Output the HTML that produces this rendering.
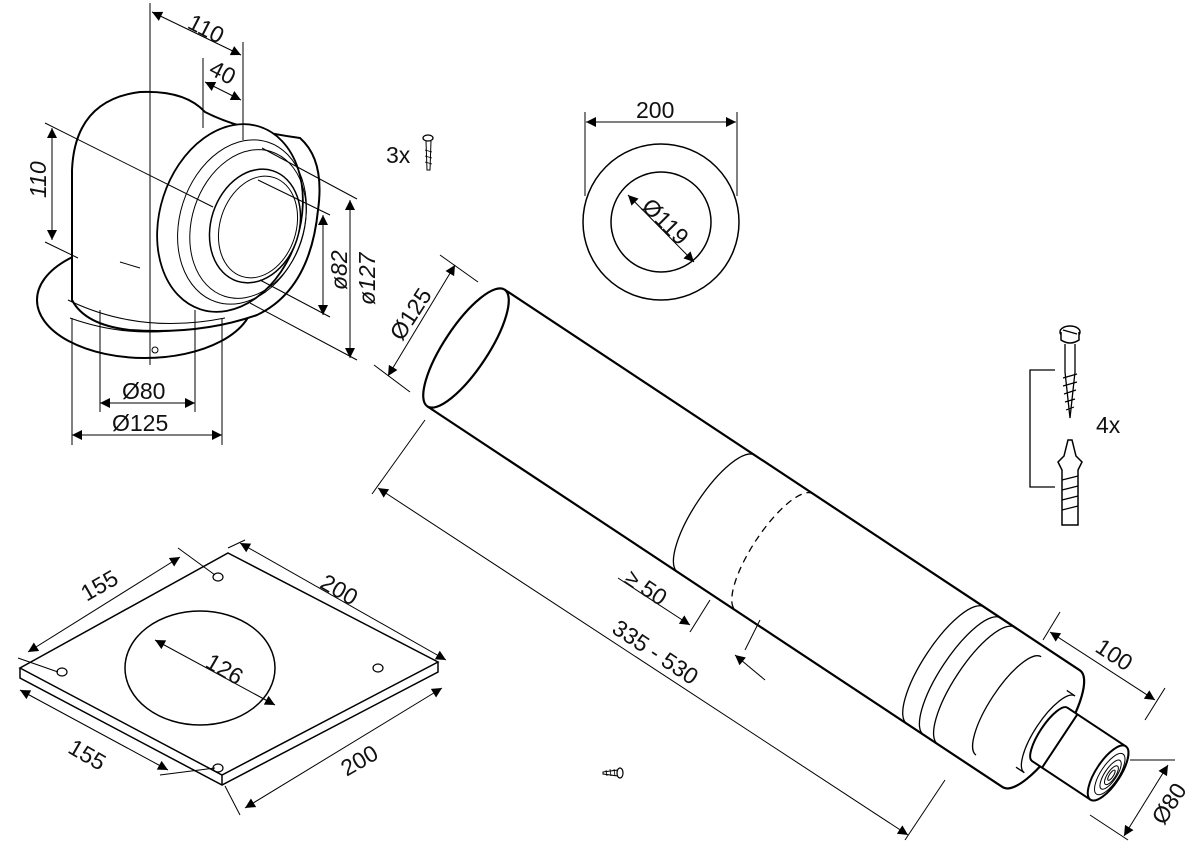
<!DOCTYPE html>
<html><head><meta charset="utf-8">
<style>
html,body{margin:0;padding:0;background:#fff;}
svg{display:block;}
text{font-family:"Liberation Sans",sans-serif;font-size:23px;fill:#111;}
</style></head><body>
<svg width="1200" height="856" viewBox="0 0 1200 856" xmlns="http://www.w3.org/2000/svg">
<defs>
<marker id="a" viewBox="0 0 10 10" refX="10" refY="5" markerWidth="14" markerHeight="10" markerUnits="userSpaceOnUse" orient="auto-start-reverse">
<path d="M0,0 L10,5 L0,10 z" fill="#000"/></marker>
</defs>
<g fill="none" stroke="#000" stroke-width="1.3">

<ellipse cx="145" cy="300" rx="108" ry="58" fill="#fff" stroke-width="2"/>
<path d="M70,318 Q145,345 225,320" stroke-width="1"/>
<path d="M72,262 L72,170 Q75,100 140,92 Q185,90 205,112 Q240,130 300,138 Q325,160 318,210 Q310,290 257,315 Q200,335 130,330 Q85,325 72,300 Z" fill="#fff" stroke-width="2"/>
<path d="M68,300 Q140,335 225,318" stroke-width="1"/>
<path d="M120,262 L140,268" stroke-width="1"/>
<ellipse cx="230" cy="218" rx="70" ry="96" transform="rotate(18 230 218)" fill="#fff" stroke-width="1.8"/>
<ellipse cx="242" cy="222" rx="62" ry="84" transform="rotate(18 242 222)" stroke-width="1"/>
<ellipse cx="248" cy="224" rx="56" ry="76" transform="rotate(18 248 224)" stroke-width="1"/>
<ellipse cx="255" cy="226" rx="44" ry="58" transform="rotate(18 255 226)" fill="#fff" stroke-width="1.5"/>
<ellipse cx="258" cy="227" rx="38" ry="52" transform="rotate(18 258 227)" stroke-width="1"/>
<circle cx="155" cy="350" r="3" stroke-width="1"/>
<g stroke-width="1">
<line x1="150" y1="3" x2="150" y2="365"/>
<line x1="243" y1="42" x2="243" y2="140"/>
<line x1="203" y1="58" x2="203" y2="128"/>
<line x1="152" y1="12" x2="241" y2="55" marker-start="url(#a)" marker-end="url(#a)"/>
<line x1="205" y1="82" x2="241" y2="100" marker-start="url(#a)" marker-end="url(#a)"/>
<line x1="45" y1="123" x2="213" y2="207"/>
<line x1="45" y1="242" x2="78" y2="258"/>
<line x1="52" y1="128" x2="52" y2="240" marker-start="url(#a)" marker-end="url(#a)"/>
<line x1="258" y1="180" x2="330" y2="215"/>
<line x1="260" y1="280" x2="330" y2="317"/>
<line x1="323" y1="215" x2="323" y2="315" marker-start="url(#a)" marker-end="url(#a)"/>
<line x1="262" y1="148" x2="357" y2="199"/>
<line x1="250" y1="303" x2="357" y2="360"/>
<line x1="350" y1="200" x2="350" y2="358" marker-start="url(#a)" marker-end="url(#a)"/>
<line x1="100" y1="310" x2="100" y2="412"/>
<line x1="195" y1="310" x2="195" y2="412"/>
<line x1="100" y1="403" x2="195" y2="403" marker-start="url(#a)" marker-end="url(#a)"/>
<line x1="72" y1="318" x2="72" y2="445"/>
<line x1="222" y1="318" x2="222" y2="445"/>
<line x1="72" y1="435" x2="222" y2="435" marker-start="url(#a)" marker-end="url(#a)"/>
</g>

<ellipse cx="428" cy="138" rx="5" ry="3" fill="#fff"/>
<path d="M426,141 L427,170 L430,170 L431,141" stroke-width="1"/>
<path d="M425,150 l7,2 M425,156 l7,2 M425,162 l7,2" stroke-width="0.8"/>

<circle cx="661" cy="222" r="78" stroke-width="1.5"/>
<circle cx="661" cy="222" r="50" stroke-width="1.5"/>
<g stroke-width="1">
<line x1="585" y1="112" x2="585" y2="196"/>
<line x1="737" y1="112" x2="737" y2="196"/>
<line x1="586" y1="122" x2="736" y2="122" marker-start="url(#a)" marker-end="url(#a)"/>
<line x1="628" y1="195" x2="694" y2="262" marker-start="url(#a)" marker-end="url(#a)"/>
</g>

<g transform="translate(466,348) rotate(33.5)">
<path d="M0,-70 L690,-70 A22,70 0 0 1 690,70 L0,70" fill="#fff" stroke-width="2.2"/>
<ellipse cx="0" cy="0" rx="22" ry="70" fill="#fff" stroke-width="2.2"/>
<path d="M300,-70 A22,70 0 0 0 300,70" stroke-width="1.3"/>
<path d="M370,-70 A22,70 0 0 0 370,70" stroke-width="1.3" stroke-dasharray="7,5"/>
<path d="M575,-70 A22,70 0 0 0 575,70" stroke-width="1.3"/>
<path d="M595,-70 A22,70 0 0 0 595,70" stroke-width="1.3"/>
<path d="M612,-70 A22,70 0 0 0 612,70" stroke-width="1.3"/>
<path d="M650,-60 A18,58 0 0 0 650,58" stroke-width="1.3"/>
<path d="M690,-46 L700,-46 A15,46 0 0 0 700,46 L690,46" stroke-width="1.3"/>
<path d="M700,-32 L770,-32 A12,32 0 0 1 770,32 L700,32 A10,32 0 0 1 700,-32 Z" fill="#fff" stroke-width="2"/>
<line x1="712" y1="-32" x2="712" y2="32" stroke-width="2"/>
<ellipse cx="770" cy="0" rx="12" ry="32" fill="#fff" stroke-width="2"/>
<ellipse cx="772" cy="0" rx="9" ry="24" stroke-width="1"/>
<ellipse cx="773" cy="0" rx="6" ry="17" stroke-width="1"/>
<ellipse cx="774" cy="0" rx="4" ry="11" stroke-width="1"/>
<ellipse cx="774" cy="0" rx="2" ry="6" stroke-width="1"/>
</g>
<g stroke-width="1">
<line x1="440" y1="255" x2="478" y2="282"/>
<line x1="374" y1="365" x2="410" y2="392"/>
<line x1="455" y1="265" x2="388" y2="376" marker-start="url(#a)" marker-end="url(#a)"/>
<line x1="372" y1="494" x2="425" y2="420"/>
<line x1="378" y1="488" x2="908" y2="835" marker-start="url(#a)" marker-end="url(#a)"/>
<line x1="905" y1="840" x2="945" y2="780"/>
<line x1="618" y1="578" x2="690" y2="625" marker-end="url(#a)"/>
<line x1="690" y1="632" x2="710" y2="600"/>
<line x1="765" y1="680" x2="735" y2="655" marker-end="url(#a)"/>
<line x1="745" y1="650" x2="760" y2="620"/>
<line x1="1043" y1="640" x2="1060" y2="612"/>
<line x1="1050" y1="632" x2="1155" y2="700" marker-start="url(#a)" marker-end="url(#a)"/>
<line x1="1145" y1="720" x2="1165" y2="688"/>
<line x1="1130" y1="760" x2="1175" y2="760"/>
<line x1="1090" y1="815" x2="1128" y2="840"/>
<line x1="1168" y1="765" x2="1124" y2="836" marker-start="url(#a)" marker-end="url(#a)"/>
</g>

<path d="M20,668 L20,678 L222,785 L438,672 L438,662" fill="#fff" stroke-width="1.5"/>
<path d="M228,553 L438,662 L222,775 L20,668 Z" fill="#fff" stroke-width="1.5"/>
<line x1="222" y1="775" x2="222" y2="785" stroke-width="1.5"/>
<ellipse cx="200" cy="668" rx="75" ry="57" stroke-width="1.5"/>
<g stroke-width="1.2">
<ellipse cx="218" cy="577" rx="5" ry="4"/>
<ellipse cx="378" cy="668" rx="5" ry="4"/>
<ellipse cx="62" cy="672" rx="5" ry="4"/>
<ellipse cx="218" cy="768" rx="5" ry="4"/>
</g>
<g stroke-width="1">
<line x1="178" y1="548" x2="215" y2="575"/>
<line x1="18" y1="658" x2="58" y2="672"/>
<line x1="28" y1="652" x2="180" y2="557" marker-start="url(#a)" marker-end="url(#a)"/>
<line x1="228" y1="548" x2="245" y2="540"/>
<line x1="240" y1="543" x2="446" y2="660" marker-start="url(#a)" marker-end="url(#a)"/>
<line x1="155" y1="640" x2="275" y2="705" marker-start="url(#a)" marker-end="url(#a)"/>
<line x1="20" y1="690" x2="168" y2="770" marker-start="url(#a)" marker-end="url(#a)"/>
<line x1="160" y1="775" x2="215" y2="768"/>
<line x1="245" y1="808" x2="442" y2="688" marker-start="url(#a)" marker-end="url(#a)"/>
<line x1="240" y1="815" x2="225" y2="786"/>
</g>

<ellipse cx="1070" cy="332" rx="10" ry="6" fill="#fff" stroke-width="1.5"/>
<path d="M1061,332 L1061,340 Q1070,346 1079,340 L1079,332" fill="#fff" stroke-width="1.5"/>
<line x1="1063" y1="330" x2="1077" y2="334"/>
<path d="M1065,344 L1065,372 L1070,418 L1075,372 L1075,344" fill="#fff" stroke-width="1.3"/>
<path d="M1063,378 l14,-4 M1063,386 l14,-4 M1064,394 l12,-4 M1065,402 l10,-3 M1066,410 l8,-3" stroke-width="1.2"/>
<path d="M1062,525 L1062,470 L1058,462 L1064,456 L1068,440 L1072,440 L1076,456 L1082,462 L1078,470 L1078,525 Z" fill="#fff" stroke-width="1.5"/>
<path d="M1062,480 l16,-4 M1062,490 l16,-4 M1062,500 l16,-4 M1062,510 l16,-4" stroke-width="1.2"/>
<path d="M1055,370 L1030,370 L1030,487 L1055,487" stroke-width="1.3"/>

<path d="M603,772 L618,770 L618,776 L603,774 Z" fill="#fff" stroke-width="1"/>
<ellipse cx="620" cy="773" rx="3" ry="5" fill="#fff" stroke-width="1.2"/>
<path d="M606,770 l1,6 M610,769 l1,7 M614,769 l1,7" stroke-width="0.8"/>
</g>

<text x="188" y="36" transform="rotate(27 205 28)">110</text>
<text x="210" y="80" transform="rotate(27 222 72)">40</text>
<text x="25" y="193" transform="rotate(-90 38 185)" font-style="italic">110</text>
<text x="320" y="277" transform="rotate(-90 340 270)" font-style="italic">ø82</text>
<text x="341" y="289" transform="rotate(-90 366 280)" font-style="italic">ø127</text>
<text x="122" y="399">Ø80</text>
<text x="112" y="431">Ø125</text>
<text x="386" y="163">3x</text>
<text x="636" y="118">200</text>
<text x="638" y="230" transform="rotate(45 666 222)">Ø119</text>
<text x="383" y="323" transform="rotate(-57 410 315)">Ø125</text>
<text x="606" y="663" transform="rotate(33.5 660 655)">335 - 530</text>
<text x="623" y="598" transform="rotate(33.5 650 590)">≥ 50</text>
<text x="1095" y="663" transform="rotate(33.5 1115 655)">100</text>
<text x="1148" y="813" transform="rotate(-57 1168 805)">Ø80</text>
<text x="1096" y="433">4x</text>
<text x="80" y="593" transform="rotate(-30 100 585)">155</text>
<text x="320" y="598" transform="rotate(30 340 590)">200</text>
<text x="206" y="677" transform="rotate(30 225 668)">126</text>
<text x="68" y="763" transform="rotate(30 88 755)">155</text>
<text x="340" y="768" transform="rotate(-30 360 760)">200</text>
</svg>
</body></html>
